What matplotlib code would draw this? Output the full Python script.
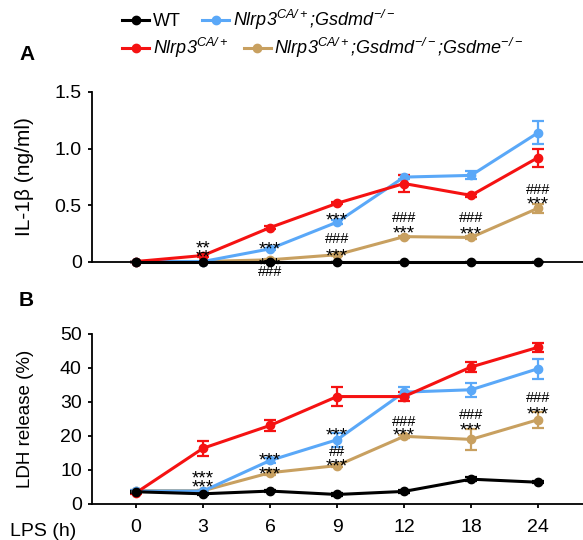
import matplotlib
matplotlib.use("Agg")
import matplotlib.pyplot as plt
import numpy as np

matplotlib.rcParams["font.family"] = "Liberation Sans"
matplotlib.rcParams["mathtext.default"] = "regular"

# categories (LPS time points, hours)
lps_hours = ["0", "3", "6", "9", "12", "18", "24"]

# panel A: IL-1b (ng/ml)
il1b_wt = [0, 0, 0, 0, 0, 0, 0]
il1b_wt_err = [0, 0, 0, 0, 0, 0, 0]
il1b_ca = [0, 0.053, 0.30, 0.515, 0.69, 0.585, 0.92]
il1b_ca_err = [0, 0.01, 0.01, 0.01, 0.077, 0.015, 0.08]
il1b_gd = [0, 0.0, 0.112, 0.348, 0.747, 0.762, 1.14]
il1b_gd_err = [0, 0, 0.01, 0.02, 0.02, 0.035, 0.10]
il1b_gde = [0, 0.0, 0.015, 0.06, 0.22, 0.213, 0.472]
il1b_gde_err = [0, 0, 0.005, 0.01, 0.01, 0.01, 0.04]

# panel B: LDH release (%)
ldh_wt = [3.6, 3.0, 3.8, 2.8, 3.7, 7.3, 6.4]
ldh_wt_err = [0.3, 0.3, 0.4, 0.3, 0.5, 0.6, 0.3]
ldh_ca = [3.3, 16.4, 23.1, 31.6, 31.6, 40.3, 46.1]
ldh_ca_err = [0.3, 2.2, 1.6, 2.8, 1.3, 1.6, 1.3]
ldh_gd = [3.8, 3.8, 12.8, 18.9, 32.9, 33.6, 39.8]
ldh_gd_err = [0.3, 0.3, 0.6, 2.0, 1.5, 2.1, 2.9]
ldh_gde = [3.9, 3.9, 9.2, 11.3, 19.9, 19.0, 24.8]
ldh_gde_err = [0.3, 0.3, 0.8, 0.5, 0.5, 3.2, 2.3]

# significance marks: (time index, glyph centre y, text)
marks_a = [
    (1, 0.168, "**"), (1, 0.091, "**"),
    (2, 0.162, "***"), (2, 0.015, "***"), (2, -0.086, "###"),
    (3, 0.414, "***"), (3, 0.211, "###"), (3, 0.097, "***"),
    (4, 0.400, "###"), (4, 0.302, "***"),
    (5, 0.393, "###"), (5, 0.290, "***"),
    (6, 0.645, "###"), (6, 0.553, "***"),
]
marks_b = [
    (1, 9.2, "***"), (1, 6.5, "***"),
    (2, 14.6, "***"), (2, 10.3, "***"),
    (3, 22.0, "***"), (3, 15.7, "##"), (3, 12.9, "***"),
    (4, 24.5, "###"), (4, 21.8, "***"),
    (5, 26.5, "###"), (5, 23.5, "***"),
    (6, 31.4, "###"), (6, 28.2, "***"),
]

C_WT = "black"
C_CA = "#F51212"
C_GD = "#5AA8F8"
C_GDE = "#C8A060"

LBL_WT = "WT"
LBL_CA = "Nlrp3$^{CA/+}$"
LBL_GD = "Nlrp3$^{CA/+}$;Gsdmd$^{-/-}$"
LBL_GDE = "Nlrp3$^{CA/+}$;Gsdmd$^{-/-}$;Gsdme$^{-/-}$"

W, H = 583, 540
AX_L, AX_R = 91.5, 583
fig = plt.figure(figsize=(W / 100, H / 100), dpi=100)
ax_a = fig.add_axes([AX_L / W, 1 - 261.5 / H, (AX_R - AX_L) / W, (261.5 - 92) / H])
ax_b = fig.add_axes([AX_L / W, 1 - 504 / H, (AX_R - AX_L) / W, (504 - 334) / H])

x = np.arange(len(lps_hours))


def draw_series(ax, y, err, color):
    h = ax.errorbar(x, y, yerr=err, color=color, lw=2.2, marker="o", ms=6,
                    capsize=4, capthick=1.6, elinewidth=1.6, clip_on=False)
    for art in h.lines[0:1] + tuple(h.lines[1]) + tuple(h.lines[2]):
        art.set_clip_on(False)
    return h.lines[0]


def draw_marks(ax, marks):
    for xi, yc, txt in marks:
        if txt.startswith("*"):
            fs, off = 13.5, 0.58 * 13.5
        else:
            fs, off = 10.5, 0.36 * 10.5
        ax.annotate(txt, (xi, yc), xytext=(0, -off), textcoords="offset points",
                    ha="center", va="baseline", fontsize=fs, color="black",
                    annotation_clip=False)


def style_axis(ax, ylim, yticks, yticklabels, ylabel, label_size):
    ax.set_xlim(-0.664, 6.67)
    ax.set_ylim(*ylim)
    ax.set_yticks(yticks)
    ax.set_yticklabels(yticklabels, fontsize=14)
    ax.set_ylabel(ylabel, fontsize=label_size)
    ax.yaxis.set_label_coords(-(AX_L - 34) / (AX_R - AX_L), 0.5)
    ax.spines["top"].set_visible(False)
    ax.spines["right"].set_visible(False)
    ax.spines["left"].set_linewidth(1.3)
    ax.spines["bottom"].set_linewidth(1.3)
    ax.tick_params(axis="y", length=3, width=1.3, pad=4)


series_a = [(il1b_gde, il1b_gde_err, C_GDE), (il1b_gd, il1b_gd_err, C_GD),
            (il1b_ca, il1b_ca_err, C_CA), (il1b_wt, il1b_wt_err, C_WT)]
series_b = [(ldh_gde, ldh_gde_err, C_GDE), (ldh_gd, ldh_gd_err, C_GD),
            (ldh_ca, ldh_ca_err, C_CA), (ldh_wt, ldh_wt_err, C_WT)]

handles = {}
for (y, e, c) in series_a:
    handles[c] = draw_series(ax_a, y, e, c)
for (y, e, c) in series_b:
    draw_series(ax_b, y, e, c)

style_axis(ax_a, (0, 1.5), [0, 0.5, 1.0, 1.5], ["0", "0.5", "1.0", "1.5"],
           "IL-1β (ng/ml)", 15)
style_axis(ax_b, (0, 50), [0, 10, 20, 30, 40, 50], ["0", "10", "20", "30", "40", "50"],
           "LDH release (%)", 13.5)

ax_a.set_xticks(x)
ax_a.tick_params(axis="x", length=0, labelbottom=False)
ax_b.set_xticks(x)
ax_b.set_xticklabels(lps_hours, fontsize=14)
ax_b.tick_params(axis="x", length=3, width=1.3, pad=8)

draw_marks(ax_a, marks_a)
draw_marks(ax_b, marks_b)

fig.text(10 / W, 1 - 531 / H, "LPS (h)", fontsize=14, ha="left", va="center")
fig.text(19 / W, 1 - 55 / H, "A", fontsize=15, fontweight="bold", ha="left", va="center")
fig.text(19 / W, 1 - 300 / H, "B", fontsize=15, fontweight="bold", ha="left", va="center")

leg_kw = dict(loc="center left", ncol=2, frameon=False, handlelength=1.5,
              handletextpad=0.2, borderpad=0, borderaxespad=0,
              prop={"size": 13, "style": "italic"})
lg1 = fig.legend([handles[C_WT], handles[C_GD]], [LBL_WT, LBL_GD],
                 bbox_to_anchor=(122 / W, 1 - 20 / H), columnspacing=1.2, **leg_kw)
lg1.get_texts()[0].set_fontstyle("normal")
fig.legend([handles[C_CA], handles[C_GDE]], [LBL_CA, LBL_GDE],
           bbox_to_anchor=(122 / W, 1 - 48 / H), columnspacing=0.85, **leg_kw)

fig.savefig("out.png", dpi=100)
